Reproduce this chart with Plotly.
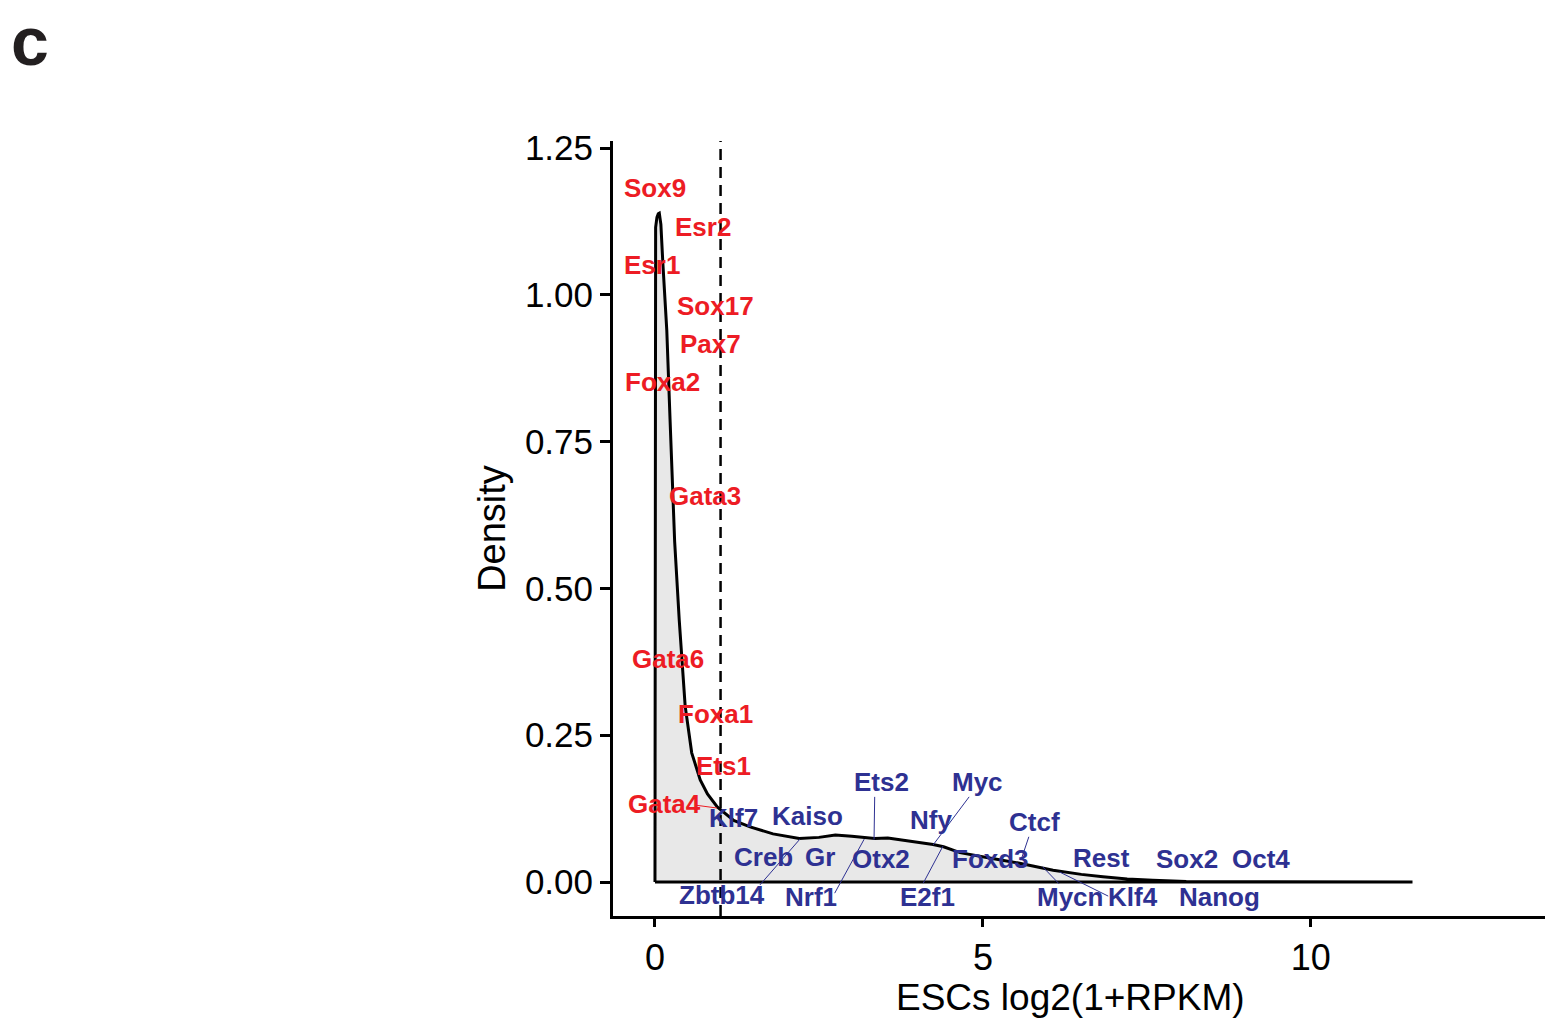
import plotly.graph_objects as go

# ---- density curve ----
curve_x = [0, 0, 0.01, 0.03, 0.05, 0.066, 0.09, 0.12, 0.18, 0.23, 0.30, 0.37, 0.46, 0.56,
           0.69, 0.80, 0.95, 1.2, 1.45, 1.8, 2.2, 2.5, 2.75, 3.0, 3.35, 3.55, 3.9, 4.24,
           4.4, 4.65, 5.1, 5.56, 6.07, 6.5, 6.83, 7.2, 7.59, 8.1, 9.0, 10.0, 11.55]
curve_y = [0, 1.09, 1.115, 1.132, 1.138, 1.139, 1.12, 1.054, 0.94, 0.787, 0.58, 0.446, 0.30,
           0.22, 0.174, 0.15, 0.128, 0.105, 0.094, 0.082, 0.074, 0.076, 0.080, 0.078, 0.074,
           0.075, 0.070, 0.064, 0.060, 0.050, 0.041, 0.032, 0.020, 0.013, 0.009, 0.005,
           0.003, 0.001, 0.0005, 0.0002, 0.0]

threshold = 1.0

# ---- labels ----
red_labels = ["Sox9", "Esr2", "Esr1", "Sox17", "Pax7", "Foxa2", "Gata3", "Gata6", "Foxa1", "Ets1", "Gata4"]
red_x = [0.0, 0.73, -0.05, 0.93, 0.84, 0.11, 0.76, 0.20, 0.93, 1.05, 0.14]
red_y = [1.182, 1.115, 1.051, 0.981, 0.916, 0.851, 0.657, 0.380, 0.286, 0.198, 0.133]

blue_labels = ["Klf7", "Kaiso", "Creb", "Gr", "Zbtb14", "Nrf1", "Ets2", "Myc", "Nfy", "Otx2",
               "E2f1", "Foxd3", "Ctcf", "Rest", "Sox2", "Oct4", "Mycn", "Klf4", "Nanog"]
blue_x = [1.19, 2.33, 1.65, 2.52, 1.02, 2.38, 3.45, 4.92, 4.21, 3.45,
          4.16, 5.12, 5.78, 6.81, 8.11, 9.24, 6.33, 7.29, 8.61]
blue_y = [0.109, 0.112, 0.043, 0.043, -0.022, -0.026, 0.170, 0.170, 0.106, 0.039,
          -0.026, 0.039, 0.102, 0.041, 0.039, 0.039, -0.026, -0.026, -0.026]

# leader segments (label end -> curve point)
red_seg_x0 = [0.61]; red_seg_y0 = [0.131]; red_seg_x1 = [0.945]; red_seg_y1 = [0.126]
blue_seg_x0 = [1.60, 2.74, 3.35, 4.79, 4.09, 5.70, 6.16, 6.91]
blue_seg_y0 = [-0.005, -0.019, 0.145, 0.145, -0.002, 0.077, -0.003, -0.024]
blue_seg_x1 = [2.21, 3.19, 3.34, 4.24, 4.39, 5.58, 5.91, 6.17]
blue_seg_y1 = [0.073, 0.073, 0.072, 0.063, 0.061, 0.037, 0.026, 0.017]

x_ticks = [0, 5, 10]
y_ticks = [0, 0.25, 0.5, 0.75, 1.0, 1.25]

RED = "#ED1C24"
BLUE = "#2E3192"

def segs(x0, y0, x1, y1):
    xs, ys = [], []
    for a, b, c, d in zip(x0, y0, x1, y1):
        xs += [a, c, None]
        ys += [b, d, None]
    return xs, ys

fig = go.Figure()
fig.add_trace(go.Scatter(x=curve_x + [0], y=curve_y + [0], mode="lines", fill="toself",
                         fillcolor="#E8E8E8", line=dict(color="black", width=3),
                         hoverinfo="skip", showlegend=False))
bx, by = segs(blue_seg_x0, blue_seg_y0, blue_seg_x1, blue_seg_y1)
fig.add_trace(go.Scatter(x=bx, y=by, mode="lines", line=dict(color=BLUE, width=1),
                         showlegend=False, hoverinfo="skip"))
rx, ry = segs(red_seg_x0, red_seg_y0, red_seg_x1, red_seg_y1)
fig.add_trace(go.Scatter(x=rx, y=ry, mode="lines", line=dict(color=RED, width=1),
                         showlegend=False, hoverinfo="skip"))

fig.add_shape(type="line", xref="x", yref="paper", x0=threshold, x1=threshold, y0=0, y1=1,
              line=dict(color="black", width=2.5, dash="11px,7px"))

FONT = "Liberation Sans, Arial, sans-serif"
for t, x, y in zip(red_labels, red_x, red_y):
    fig.add_annotation(x=x, y=y, text=f"<b>{t}</b>", showarrow=False,
                       font=dict(family=FONT, size=26, color=RED), xanchor="center", yanchor="middle")
for t, x, y in zip(blue_labels, blue_x, blue_y):
    fig.add_annotation(x=x, y=y, text=f"<b>{t}</b>", showarrow=False,
                       font=dict(family=FONT, size=26, color=BLUE), xanchor="center", yanchor="middle")

# panel letter
fig.add_annotation(xref="paper", yref="paper", x=(9 - 613) / 932, y=(916 - 1) / 775,
                   text="<b>c</b>", showarrow=False, xanchor="left", yanchor="top",
                   font=dict(family=FONT, size=68, color="#231F20"))

# x-axis title
fig.add_annotation(xref="paper", yref="paper", x=(1070 - 613) / 932, y=(916 - 997) / 775,
                   text="ESCs log2(1+RPKM)", showarrow=False, xanchor="center", yanchor="middle",
                   font=dict(family=FONT, size=37, color="black"))

fig.update_layout(
    width=1545, height=1019,
    margin=dict(l=613, r=0, t=141, b=103),
    paper_bgcolor="white", plot_bgcolor="white",
    font=dict(family=FONT, color="black"),
    xaxis=dict(range=[-0.64, 13.57], tickvals=x_ticks, ticktext=[str(v) for v in x_ticks],
               showgrid=False, zeroline=False, showline=True, linecolor="black", linewidth=3,
               ticks="outside", ticklen=8, tickwidth=2.5, tickcolor="black",
               tickfont=dict(size=36, color="black")),
    yaxis=dict(range=[-0.0579, 1.262], tickvals=y_ticks, tickformat=".2f",
               showgrid=False, zeroline=False, showline=True, linecolor="black", linewidth=3,
               ticks="outside", ticklen=10, tickwidth=2.5, tickcolor="black",
               tickfont=dict(size=35, color="black"),
               title=dict(text="Density", font=dict(size=38, color="black"), standoff=8)),
)

fig.write_html("out.html")
